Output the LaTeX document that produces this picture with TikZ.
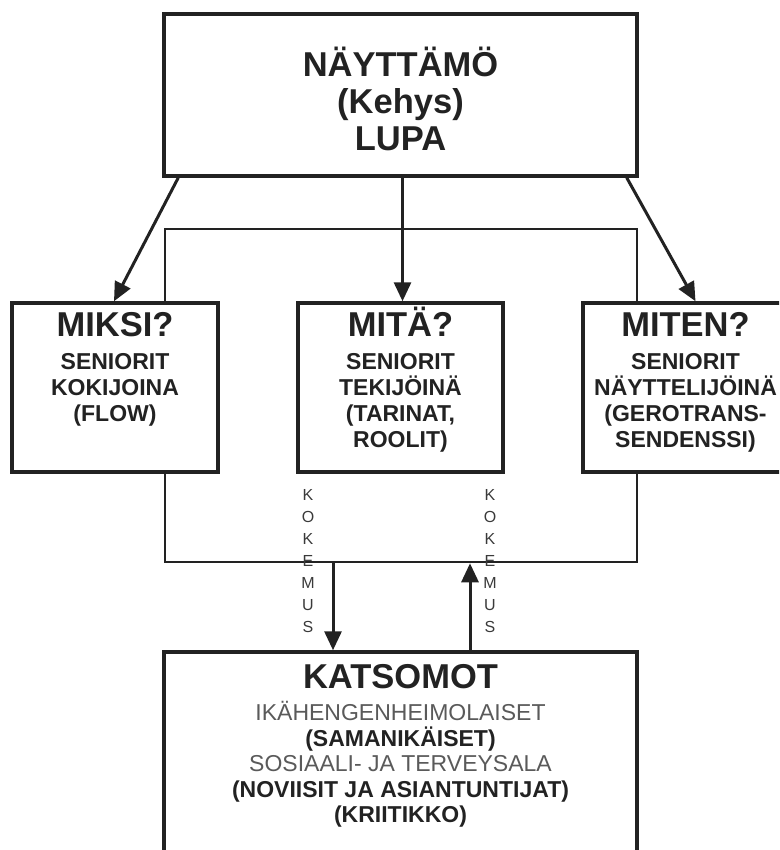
\documentclass[tikz,border=0pt]{standalone}
\usepackage{fontspec}
\setmainfont{Liberation Sans}
\usetikzlibrary{arrows.meta,positioning,calc}
\definecolor{ink}{HTML}{222222}
\definecolor{soft}{HTML}{5a5a5a}
\definecolor{kokc}{HTML}{3a3a3a}
\tikzset{
  box/.style={draw=ink, line width=3.5pt, fill=white, inner sep=0pt},
  frameline/.style={draw=ink, line width=2.6pt},
  arr/.style={draw=ink, line width=3pt, -{Triangle[length=19pt,width=17pt]}},
  txt/.style={text=ink, align=center, inner sep=0pt},
  head/.style={text=ink, inner sep=0pt, font=\bfseries\fontsize{34.5}{37}\selectfont, anchor=base},
  sub/.style={txt, font=\bfseries\fontsize{23}{26}\selectfont, anchor=north},
  kok/.style={text=kokc, align=center, inner sep=0pt, font=\fontsize{16}{22}\selectfont},
}
\begin{document}
\begin{tikzpicture}[x=1pt,y=-1pt]
\useasboundingbox (0,0) rectangle (779,850);
\clip (0,0) rectangle (779,850);
\fill[white] (0,0) rectangle (779,850);
% frame
\node[frameline, minimum width=472pt, minimum height=333pt, inner sep=0pt] (fr) at (401,395.5) {};
% boxes
\node[box, minimum width=473pt, minimum height=162pt] (top) at (400.5,95) {};
\node[box, minimum width=206pt, minimum height=169pt] (miksi) at (115,387.5) {};
\node[box, minimum width=205pt, minimum height=169pt] (mita) at (400.5,387.5) {};
\node[box, minimum width=205pt, minimum height=169pt] (miten) at (685.5,387.5) {};
\node[box, minimum width=473pt, minimum height=260pt] (bot) at (400.5,782) {};
% texts
\node[txt, font=\bfseries\fontsize{34.5}{37}\selectfont, anchor=north] (topT) at ($(top.north)+(0,35)$) {NÄYTTÄMÖ\\(Kehys)\\LUPA};
\node[head] (miksiH) at ($(miksi.north)+(0,35)$) {MIKSI?};
\node[sub] (miksiT) at ($(miksi.north)+(0,52)$) {SENIORIT\\KOKIJOINA\\(FLOW)};
\node[head] (mitaH) at ($(mita.north)+(0,35)$) {MITÄ?};
\node[sub] (mitaT) at ($(mita.north)+(0,52)$) {SENIORIT\\TEKIJÖINÄ\\(TARINAT,\\ROOLIT)};
\node[head] (mitenH) at ($(miten.north)+(0,35)$) {MITEN?};
\node[sub] (mitenT) at ($(miten.north)+(0,52)$) {SENIORIT\\NÄYTTELIJÖINÄ\\(GEROTRANS-\\SENDENSSI)};
\node[head] (botH) at ($(bot.north)+(0,38)$) {KATSOMOT};
\node[txt, font=\fontsize{23}{25.5}\selectfont, anchor=north] (botT) at ($(bot.north)+(0,51)$) {%
  {\color{soft}IKÄHENGENHEIMOLAISET}\\
  \textbf{(SAMANIKÄISET)}\\
  {\color{soft}SOSIAALI- JA TERVEYSALA}\\
  \textbf{(NOVIISIT JA ASIANTUNTIJAT)}\\
  \textbf{(KRIITIKKO)}};
% kokemus labels
\node[kok] (k1) at (308,561) {K\\O\\K\\E\\M\\U\\S};
\node[kok] (k2) at (490,561) {K\\O\\K\\E\\M\\U\\S};
% arrows
\draw[arr] ($(top.south west)+(16,0)$) -- ($(miksi.north)+(-1,0)$);
\draw[arr] ($(top.south)+(2,0)$) -- ($(mita.north)+(2,0)$);
\draw[arr] ($(top.south east)+(-12,0)$) -- ($(miten.north)+(10,0)$);
\coordinate (dn) at (333,562);
\coordinate (up) at (470,562);
\draw[arr] (fr.south -| dn) -- (bot.north -| dn);
\draw[arr] (bot.north -| up) -- (fr.south -| up);
\end{tikzpicture}
\end{document}
